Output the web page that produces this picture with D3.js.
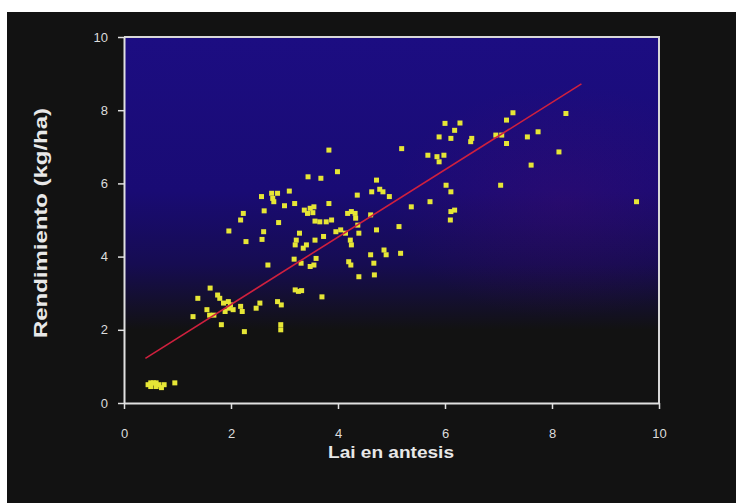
<!DOCTYPE html>
<html><head><meta charset="utf-8">
<script src="https://cdn.jsdelivr.net/npm/d3@7"></script>
<style>html,body{margin:0;padding:0;background:#fff;}svg{display:block;}</style>
</head><body>
<script>
// Data
const laiX = [0.45,0.5,0.55,0.6,0.65,0.7,0.75,0.5,0.6,0.95,
 1.29,1.38,1.61,1.55,1.6,1.68,1.75,1.79,1.82,1.86,1.89,1.95,1.96,1.99,2.04,2.18,2.21,2.25,2.47,2.54,2.87,2.94,2.93,2.93,3.7,3.26,3.32,3.2,2.69,
 1.96,2.18,2.23,2.28,2.58,2.61,2.57,2.62,2.76,2.78,2.8,2.87,2.89,3.0,3.09,3.19,3.2,3.22,3.28,3.18,3.31,3.35,3.41,3.37,3.43,3.48,3.53,3.55,3.57,3.44,3.68,3.83,3.99,
 3.66,3.78,3.83,3.88,3.57,3.73,3.59,3.55,3.48,3.96,4.05,4.14,4.18,4.25,4.32,4.33,4.37,4.39,4.36,4.23,4.25,4.2,4.24,4.39,4.61,4.67,4.68,4.61,4.63,4.72,4.78,4.84,4.96,4.72,4.86,4.9,
 5.14,5.17,5.19,5.37,5.72,5.68,5.85,5.89,5.98,5.89,6.0,6.11,6.18,6.28,6.48,6.5,6.02,6.11,6.11,6.1,6.18,6.95,7.06,7.15,7.15,7.27,7.04,7.54,7.74,7.61,8.13,8.26,9.58];
const rendY = [0.5,0.45,0.55,0.45,0.5,0.42,0.5,0.55,0.55,0.55,
 2.36,2.86,3.14,2.55,2.4,2.4,2.95,2.86,2.14,2.73,2.5,2.77,2.59,2.68,2.55,2.64,2.5,1.95,2.59,2.73,2.77,2.68,2.14,2.0,2.9,3.05,3.07,3.09,3.77,
 4.7,5.0,5.18,4.41,4.47,4.68,5.64,5.25,5.73,5.59,5.5,5.73,4.93,5.39,5.79,5.45,4.32,4.45,4.64,3.93,3.82,4.23,4.32,5.27,5.18,5.32,5.2,5.36,4.97,6.18,6.14,6.91,6.32,
 4.95,4.95,5.45,5.0,4.45,4.55,3.95,3.77,3.73,4.68,4.73,4.64,5.18,5.23,5.18,5.05,4.86,4.64,5.68,4.45,4.32,3.86,3.77,3.45,4.05,3.82,3.5,5.14,5.77,6.09,5.84,5.77,5.64,4.73,4.18,4.05,
 4.82,4.09,6.95,5.36,5.5,6.77,6.73,6.59,6.77,7.27,7.64,7.23,7.45,7.65,7.14,7.23,5.95,5.77,5.23,5.0,5.27,7.32,7.32,7.09,7.73,7.93,5.95,7.27,7.41,6.5,6.86,7.91,5.5];
const trendX = [0.4, 8.55];
const trendY = [1.22, 8.72];
const xTicks = [0,2,4,6,8,10];
const yTicks = [0,2,4,6,8,10];

const W = 736, H = 503;
const svg = d3.select("body").append("svg").attr("width", W).attr("height", H);
const defs = svg.append("defs");
const lg = defs.append("linearGradient").attr("id","bg").attr("x1",0).attr("y1",0).attr("x2",0).attr("y2",1);
[["0%","#1c0d82"],["42%","#190b74"],["62%","#160c52"],["80%","#121212"],["100%","#121212"]].forEach(s=>lg.append("stop").attr("offset",s[0]).attr("stop-color",s[1]));
const rg = defs.append("radialGradient").attr("id","tint").attr("cx","0.82").attr("cy","0.45").attr("r","0.32");
rg.append("stop").attr("offset","0%").attr("stop-color","#5a0a6a").attr("stop-opacity",0.22);
rg.append("stop").attr("offset","100%").attr("stop-color","#5a0a6a").attr("stop-opacity",0);

// outer black panel
svg.append("rect").attr("x",7).attr("y",12).attr("width",W-7).attr("height",H-12).attr("fill","#121212");

const x = d3.scaleLinear().domain([0,10]).range([124,659]);
const y = d3.scaleLinear().domain([0,10]).range([403,37]);

svg.append("rect").attr("x",x(0)).attr("y",y(10)).attr("width",x(10)-x(0)).attr("height",y(0)-y(10)).attr("fill","url(#bg)");
svg.append("rect").attr("x",x(0)).attr("y",y(10)).attr("width",x(10)-x(0)).attr("height",y(0)-y(10)).attr("fill","url(#tint)");

// frame top/right
svg.append("path").attr("d",`M${x(0)},${y(10)}H${x(10)}V${y(0)}`).attr("fill","none").attr("stroke","#d8d8d8").attr("stroke-width",2);

const pts = laiX.map((v,i)=>({x:v,y:rendY[i]}));
svg.append("g").selectAll("rect").data(pts).join("rect")
  .attr("x",d=>x(d.x)-2.5).attr("y",d=>y(d.y)-2.5).attr("width",5).attr("height",5)
  .attr("fill","#e6e636");

svg.append("line").attr("x1",x(trendX[0])).attr("y1",y(trendY[0])).attr("x2",x(trendX[1])).attr("y2",y(trendY[1]))
  .attr("stroke","#d0203e").attr("stroke-width",1.6);

const xa = svg.append("g").attr("transform",`translate(0,${y(0)})`)
  .call(d3.axisBottom(x).tickValues(xTicks).tickSize(6).tickPadding(20).tickSizeOuter(0));
const ya = svg.append("g").attr("transform",`translate(${x(0)},0)`)
  .call(d3.axisLeft(y).tickValues(yTicks).tickSize(6).tickPadding(10).tickSizeOuter(0));
[xa,ya].forEach(g=>{
  g.select(".domain").attr("stroke","#e0e0e0").attr("stroke-width",2);
  g.selectAll(".tick line").attr("stroke","#e0e0e0").attr("stroke-width",1.5);
  g.selectAll("text").attr("fill","#dcdcdc").style("font-family","'Liberation Sans',Arial,sans-serif").style("font-size","13px");
});

svg.append("text").attr("x",391).attr("y",458).attr("text-anchor","middle")
  .attr("textLength",126).attr("lengthAdjust","spacingAndGlyphs")
  .attr("fill","#e8e8e8").style("font-family","'Liberation Sans',Arial,sans-serif").style("font-size","16px").style("font-weight","bold")
  .text("Lai en antesis");
svg.append("text").attr("transform","translate(47,223) rotate(-90)").attr("text-anchor","middle")
  .attr("textLength",230).attr("lengthAdjust","spacingAndGlyphs")
  .attr("fill","#e8e8e8").style("font-family","'Liberation Sans',Arial,sans-serif").style("font-size","19px").style("font-weight","bold")
  .text("Rendimiento (kg/ha)");
</script>
</body></html>
